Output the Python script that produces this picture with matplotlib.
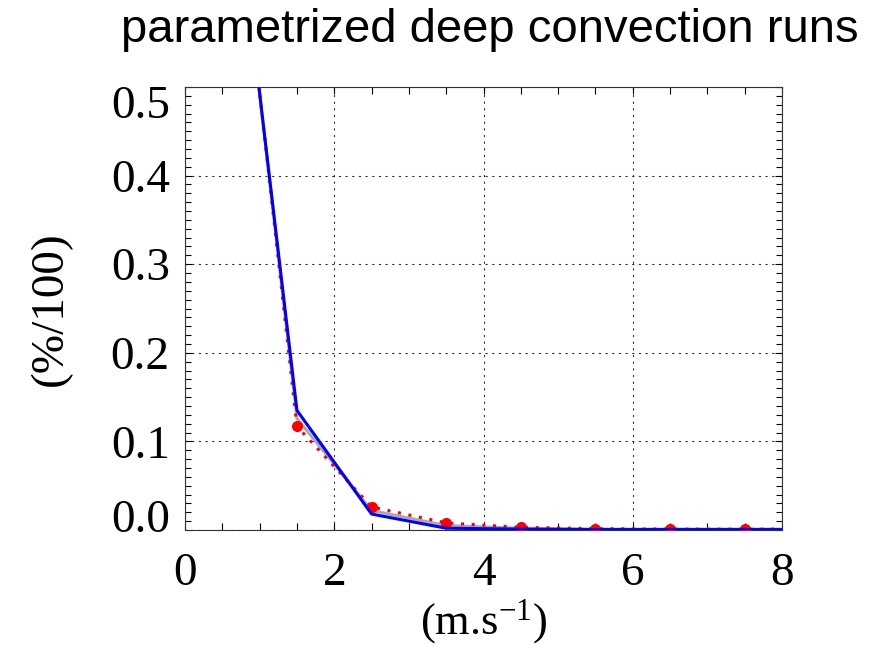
import matplotlib
matplotlib.use("Agg")
import matplotlib.pyplot as plt
import matplotlib.transforms as mtransforms
from matplotlib.ticker import MultipleLocator

plt.rcParams["mathtext.fontset"] = "custom"
plt.rcParams["mathtext.rm"] = "Liberation Serif"
plt.rcParams["mathtext.it"] = "Liberation Serif:italic"

# bin centres (m/s) and frequency (%/100)
x = [0.5, 1.5, 2.5, 3.5, 4.5, 5.5, 6.5, 7.5, 8.0]
blue = [0.85, 0.135, 0.018, 0.002, 0.001, 0.0005, 0.0005, 0.0005, 0.0005]
grey = [0.86, 0.126, 0.022, 0.005, 0.002, 0.001, 0.001, 0.001, 0.001]
red = [0.87, 0.117, 0.026, 0.008, 0.003, 0.0015, 0.001, 0.001, 0.001]
red_pts_x = [1.5, 2.5, 3.5, 4.5, 5.5, 6.5, 7.5]
red_pts_y = [0.117, 0.026, 0.008, 0.003, 0.0015, 0.001, 0.001]

fig = plt.figure(figsize=(8.87, 6.45), dpi=100)
ax = fig.add_axes([0.2086, 0.1783, 0.6730, 0.6868])

serif = "Liberation Serif"

ax.plot(x, grey, color="#aaaaaa", lw=2.2, zorder=3)
ax.plot(x, red, color="red", lw=2.2, linestyle=(0, (1, 2.5)), zorder=4)
ax.plot(red_pts_x, red_pts_y, "o", color="red", ms=7, zorder=4)
ax.plot(x, blue, color="blue", lw=2.2, zorder=5)

ax.set_xlim(0, 8)
ax.set_ylim(0, 0.5)
ax.xaxis.set_major_locator(MultipleLocator(2))
ax.xaxis.set_minor_locator(MultipleLocator(0.5))
ax.yaxis.set_major_locator(MultipleLocator(0.1))
ax.yaxis.set_minor_locator(MultipleLocator(0.01))
ax.yaxis.set_major_formatter(plt.FormatStrFormatter("%.1f"))

ax.tick_params(which="both", direction="in", top=True, right=True, width=0.8)
ax.tick_params(which="major", length=5)
ax.tick_params(which="minor", length=4)
ax.tick_params(axis="x", which="minor", length=5)
ax.tick_params(axis="y", pad=11)
ax.tick_params(axis="x", pad=16)
for lab in ax.get_xticklabels() + ax.get_yticklabels():
    lab.set_fontfamily(serif)
    lab.set_fontsize(34)

ax.grid(True, which="major", color="#333333", linestyle=(0, (2, 4)), lw=0.8)
for s in ax.spines.values():
    s.set_linewidth(0.8)
    s.set_color("#333333")

ax.set_xlabel("(m.s$^{-1}$)", fontfamily=serif, fontsize=32, labelpad=2)
ax.set_ylabel("(%/100)", fontfamily=serif, fontsize=34, labelpad=28)

fig.text(0.552, 0.953, "parametrized deep convection runs", ha="center", va="center",
         fontfamily="Liberation Sans", fontsize=34)

# end labels of the y axis sit a little inside the axis range
fig.canvas.draw()
for lab in ax.get_yticklabels():
    if lab.get_text() == "0.5":
        lab.set_transform(lab.get_transform() + mtransforms.ScaledTranslation(0, -15 / 100, fig.dpi_scale_trans))
    elif lab.get_text() == "0.0":
        lab.set_transform(lab.get_transform() + mtransforms.ScaledTranslation(0, 14 / 100, fig.dpi_scale_trans))

fig.savefig("out.png", dpi=100)
